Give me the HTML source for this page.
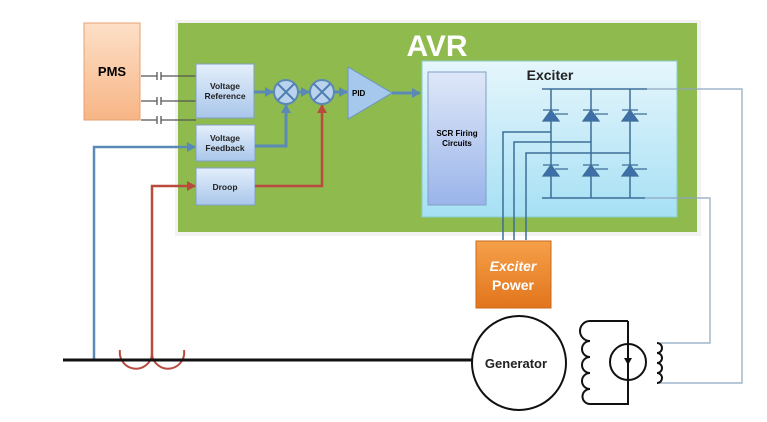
<!DOCTYPE html>
<html><head><meta charset="utf-8"><style>
body{margin:0;background:#fff;width:767px;height:417px;overflow:hidden;font-family:"Liberation Sans",sans-serif}
</style></head><body>
<svg width="767" height="417" viewBox="0 0 767 417" xmlns="http://www.w3.org/2000/svg" font-family="Liberation Sans, sans-serif">
<defs>
<linearGradient id="og" x1="0" y1="0" x2="0" y2="1"><stop offset="0" stop-color="#fde0c8"/><stop offset="1" stop-color="#f7b585"/></linearGradient>
<linearGradient id="bb" x1="0" y1="0" x2="0" y2="1"><stop offset="0" stop-color="#e4effb"/><stop offset="1" stop-color="#a9c6ea"/></linearGradient>
<linearGradient id="ex" x1="0" y1="0" x2="0" y2="1"><stop offset="0" stop-color="#e6f6fc"/><stop offset="1" stop-color="#a6e0f4"/></linearGradient>
<linearGradient id="scr" x1="0" y1="0" x2="0" y2="1"><stop offset="0" stop-color="#dfe8f8"/><stop offset="1" stop-color="#9ab4ea"/></linearGradient>
<linearGradient id="ep" x1="0" y1="0" x2="0" y2="1"><stop offset="0" stop-color="#f5a04a"/><stop offset="1" stop-color="#e2751c"/></linearGradient>
<marker id="ab" markerUnits="userSpaceOnUse" markerWidth="9" markerHeight="10" refX="8" refY="5" orient="auto"><path d="M0,0L9,5L0,10z" fill="#5b89b6"/></marker>
<marker id="ar" markerUnits="userSpaceOnUse" markerWidth="9" markerHeight="10" refX="8" refY="5" orient="auto"><path d="M0,0L9,5L0,10z" fill="#b84a3e"/></marker>
</defs>
<rect x="175" y="20" width="526" height="216" fill="#f2f2f2"/>
<rect x="178" y="23" width="519" height="209" fill="#8fbb4e"/>
<text x="437" y="56" font-size="30" font-weight="bold" fill="#fff" text-anchor="middle">AVR</text>
<rect x="84" y="23" width="56" height="97" fill="url(#og)" stroke="#e8a070"/>
<text x="112" y="76" font-size="13" font-weight="bold" text-anchor="middle">PMS</text>
<g stroke="#555" stroke-width="1.3">
<path d="M141,76H157M161,76H196M157,72V80M161,72V80"/>
<path d="M141,101H157M161,101H196M157,97V105M161,97V105"/>
<path d="M141,120H157M161,120H196M157,116V124M161,116V124"/>
</g>
<g fill="url(#bb)" stroke="#7f9fc8">
<rect x="196" y="64" width="58" height="54"/>
<rect x="196" y="125" width="59" height="36"/>
<rect x="196" y="168" width="59" height="37"/>
</g>
<g font-size="8.5" font-weight="bold" fill="#222" text-anchor="middle">
<text x="225" y="89">Voltage</text><text x="225" y="99">Reference</text>
<text x="225" y="141">Voltage</text><text x="225" y="151">Feedback</text>
<text x="225" y="190">Droop</text>
</g>
<g stroke="#5b89b6" stroke-width="3" fill="none">
<path d="M254,92H273" marker-end="url(#ab)"/>
<path d="M298,92H309" marker-end="url(#ab)"/>
<path d="M334,92H347" marker-end="url(#ab)"/>
<path d="M255,146H286V105" marker-end="url(#ab)"/>
<path d="M392,93H420" marker-end="url(#ab)"/>
<path d="M94,360V147H195" stroke-width="2.5" marker-end="url(#ab)"/>
</g>
<g stroke="#b84a3e" stroke-width="2.5" fill="none">
<path d="M255,186H322V105" marker-end="url(#ar)"/>
<path d="M152,360V186H195" marker-end="url(#ar)"/>
<path d="M120,350A16,16 0 0 0 152,355A16,16 0 0 0 184,350" stroke-width="2"/>
</g>
<g fill="#b9d3ee" stroke="#5b89b6" stroke-width="2">
<circle cx="286" cy="92" r="12"/><circle cx="322" cy="92" r="12"/>
</g>
<g stroke="#4f7fb0" stroke-width="2"><path d="M278,84L294,100M294,84L278,100M314,84L330,100M330,84L314,100"/></g>
<path d="M348,67L392,93L348,119z" fill="#a6c8ec" stroke="#6b94c4"/>
<text x="352" y="96" font-size="8" font-weight="bold">PID</text>
<rect x="422" y="61" width="255" height="156" fill="url(#ex)" stroke="#8cc"/>
<text x="550" y="80" font-size="14" font-weight="bold" text-anchor="middle" fill="#222">Exciter</text>
<rect x="428" y="72" width="58" height="133" fill="url(#scr)" stroke="#7f9fc8"/>
<text x="457" y="136" font-size="8" font-weight="bold" text-anchor="middle">SCR Firing</text>
<text x="457" y="146" font-size="8" font-weight="bold" text-anchor="middle">Circuits</text>
<g stroke="#3c6e98" stroke-width="1.5" fill="none">
<path d="M542,89H647M542,198H645M551,89V198M591,89V198M630,89V198"/>
<path d="M503,240V132H551M514,240V142H591M526,240V153H630"/>
</g>
<g stroke="#8fa8c0" stroke-width="1.2" fill="none">
<path d="M647,89H742V383H657"/>
<path d="M645,198H710V343H657"/>
</g>
<g fill="#3f6fa8" stroke="#3c6e98" stroke-width="1.2">
<path d="M543,121L551,110L559,121z"/><path d="M583,121L591,110L599,121z"/><path d="M622,121L630,110L638,121z"/>
<path d="M543,176L551,165L559,176z"/><path d="M583,176L591,165L599,176z"/><path d="M622,176L630,165L638,176z"/>
<path d="M543,110H559M583,110H599M622,110H638M543,165H559M583,165H599M622,165H638M555,114H568M595,114H608M634,114H647M555,169H568M595,169H608M634,169H647"/>
</g>
<rect x="476" y="241" width="75" height="67" fill="url(#ep)" stroke="#c96a1e"/>
<text x="513" y="271" font-size="14" font-weight="bold" font-style="italic" fill="#fff" text-anchor="middle">Exciter</text>
<text x="513" y="290" font-size="14" font-weight="bold" fill="#fff" text-anchor="middle">Power</text>
<path d="M63,360H472" stroke="#111" stroke-width="3"/>
<circle cx="519" cy="363" r="47" fill="#fff" stroke="#111" stroke-width="2"/>
<text x="516" y="368" font-size="13" font-weight="bold" text-anchor="middle" fill="#222">Generator</text>
<g stroke="#111" stroke-width="2" fill="none">
<path d="M628,321H590A7,7 0 0 0 590,341A7,7 0 0 0 590,357A7,7 0 0 0 590,373A7,7 0 0 0 590,389A7,7 0 0 0 590,404H628V321"/>
<circle cx="628" cy="362" r="18"/>
<path d="M657,343A5,5 0 0 1 657,353A5,5 0 0 1 657,363A5,5 0 0 1 657,373A5,5 0 0 1 657,383"/>
</g>
<path d="M624,358H632L628,365z" fill="#111"/>
</svg>
</body></html>
